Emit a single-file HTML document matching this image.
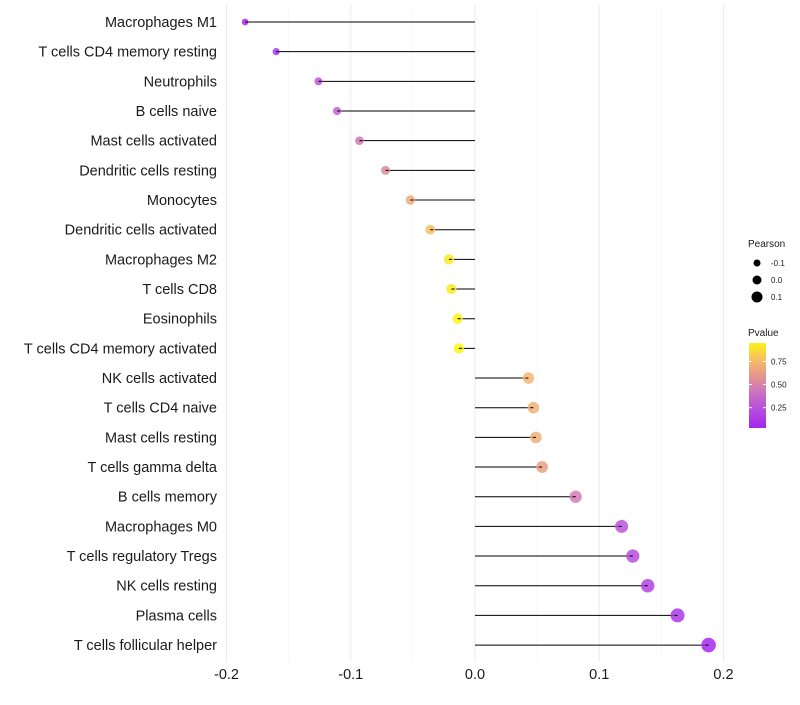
<!DOCTYPE html>
<html><head><meta charset="utf-8"><style>
body{margin:0;background:#fff;font-family:"Liberation Sans",sans-serif}
</style></head><body>
<svg id="c" width="800" height="700" xmlns="http://www.w3.org/2000/svg"></svg>
<script>
const categories=["Macrophages M1","T cells CD4 memory resting","Neutrophils","B cells naive","Mast cells activated","Dendritic cells resting","Monocytes","Dendritic cells activated","Macrophages M2","T cells CD8","Eosinophils","T cells CD4 memory activated","NK cells activated","T cells CD4 naive","Mast cells resting","T cells gamma delta","B cells memory","Macrophages M0","T cells regulatory  Tregs ","NK cells resting","Plasma cells","T cells follicular helper"];
const pearson=[-0.185,-0.160,-0.126,-0.111,-0.093,-0.072,-0.052,-0.036,-0.021,-0.019,-0.014,-0.013,0.043,0.047,0.049,0.054,0.081,0.118,0.127,0.139,0.163,0.188];
const pvalue=[0.04,0.12,0.28,0.34,0.45,0.55,0.68,0.78,0.92,0.93,0.96,0.97,0.74,0.72,0.70,0.64,0.47,0.26,0.22,0.18,0.12,0.04];
const xTicks=[-0.2,-0.1,0.0,0.1,0.2];
const xTickLabels=["-0.2","-0.1","0.0","0.1","0.2"];
const xMinor=[-0.15,-0.05,0.05,0.15];
const sizeLegend=[-0.1,0.0,0.1];
const pTicks=[0.25,0.5,0.75];

const svg=document.getElementById('c');const NS="http://www.w3.org/2000/svg";
function mk(t,a,p){const e=document.createElementNS(NS,t);for(const k in a)e.setAttribute(k,a[k]);(p||svg).appendChild(e);return e;}
const x=v=>475+v*1242.5;
const y=i=>22+i*29.67;
const rad=v=>Math.max(2,5.3+10.5*v);
function col(p){const s=[[0,[160,32,240]],[0.35,[196,100,210]],[0.55,[222,140,150]],[0.75,[245,185,110]],[1,[255,255,0]]];let k=0;while(k<s.length-2&&p>s[k+1][0])k++;const a=s[k],b=s[k+1];const t=Math.min(1,Math.max(0,(p-a[0])/(b[0]-a[0])));const c=a[1].map((v,j)=>Math.round(v+(b[1][j]-v)*t));return `rgb(${c.join(',')})`;}

const grid=mk('g',{});


xTicks.forEach(v=>mk('line',{x1:x(v),x2:x(v),y1:5,y2:662,stroke:'#ebebeb','stroke-width':1},grid));
xMinor.forEach(v=>mk('line',{x1:x(v),x2:x(v),y1:5,y2:662,stroke:'#f3f3f3','stroke-width':0.6},grid));

categories.forEach((c,i)=>{
  const g=mk('g',{});
  
  
  mk('line',{x1:x(0),x2:x(pearson[i]),y1:y(i),y2:y(i),stroke:'#000','stroke-width':1},g);
  mk('circle',{cx:x(pearson[i]),cy:y(i),r:rad(pearson[i]),fill:col(pvalue[i]),'fill-opacity':0.85},g);
  mk('line',{x1:x(pearson[i]),x2:x(pearson[i])+(pearson[i]<0?3:-3),y1:y(i),y2:y(i),stroke:'#000','stroke-width':1},g);
  const t=mk('text',{x:217,y:y(i)+5,'text-anchor':'end','font-size':14.5,fill:'#1a1a1a'});
  t.textContent=c;
  
  
});
xTicks.forEach((v,i)=>{const t=mk('text',{x:x(v),y:679,'text-anchor':'middle','font-size':14.5,fill:'#1a1a1a'});t.textContent=xTickLabels[i];

});

const lg=mk('g',{});


mk('text',{x:748,y:247,'font-size':10,fill:'#1a1a1a'},lg).textContent='Pearson';
sizeLegend.forEach((v,i)=>{const cy=263+i*17;mk('circle',{cx:757,cy:cy,r:3.5+10*(v+0.1)/1,fill:'#000'},lg);mk('text',{x:771,y:cy+3,'font-size':8,fill:'#1a1a1a'},lg).textContent=v.toFixed(1);});
mk('text',{x:748,y:336,'font-size':10,fill:'#1a1a1a'},lg).textContent='Pvalue';
const defs=mk('defs',{});const gr=mk('linearGradient',{id:'pg',x1:0,y1:1,x2:0,y2:0},defs);
const pTop=343,pBot=428,pMin=0.03,pMax=0.95;const py=p=>pBot-(p-pMin)/(pMax-pMin)*(pBot-pTop);
[0,0.2,0.4,0.6,0.8,1].forEach(o=>mk('stop',{offset:o,'stop-color':col(pMin+o*(pMax-pMin))},gr));
mk('rect',{x:749,y:pTop,width:17,height:pBot-pTop,fill:'url(#pg)'},lg);
pTicks.forEach(p=>{mk('line',{x1:749,x2:752,y1:py(p),y2:py(p),stroke:'#fff'},lg);mk('line',{x1:763,x2:766,y1:py(p),y2:py(p),stroke:'#fff'},lg);mk('text',{x:771,y:py(p)+3,'font-size':8,fill:'#1a1a1a'},lg).textContent=p.toFixed(2);});
</script>
</body></html>
